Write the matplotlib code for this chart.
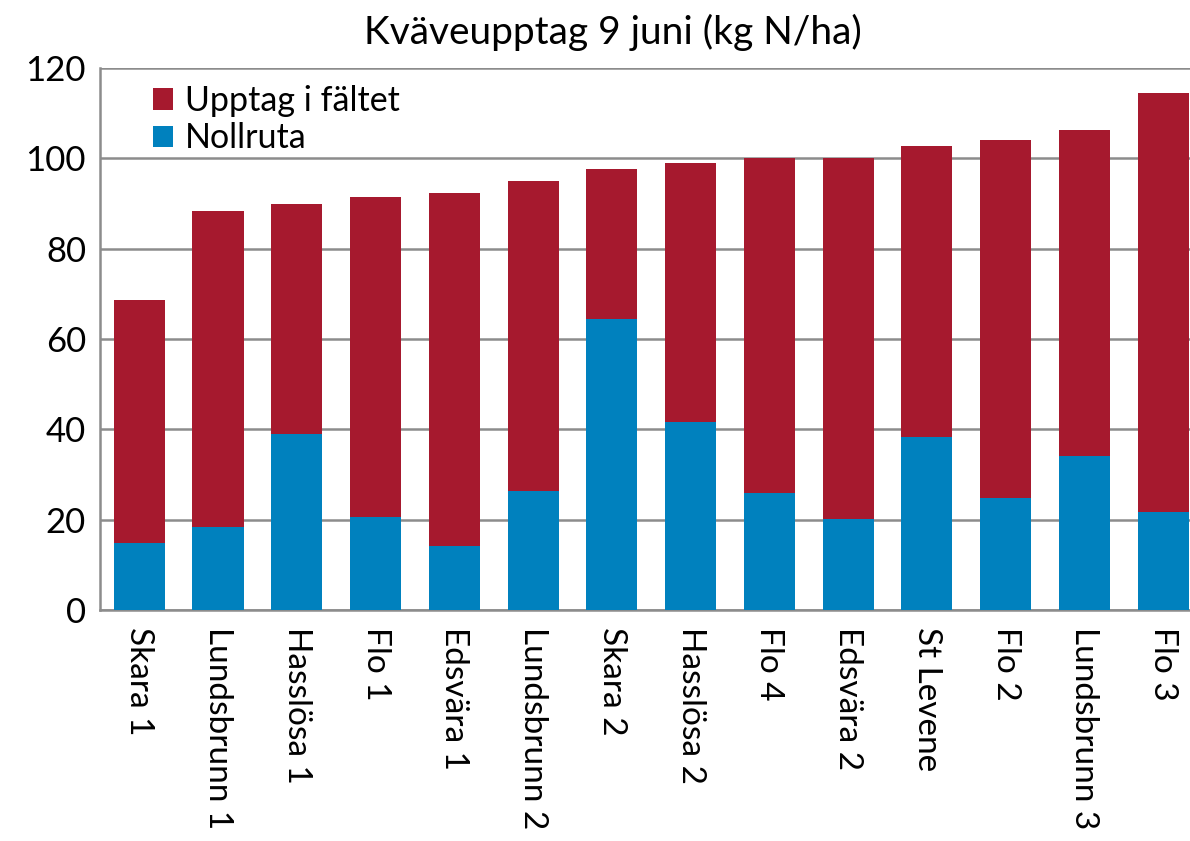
import matplotlib
matplotlib.use("Agg")
import matplotlib.pyplot as plt
import numpy as np

categories = ["Skara 1", "Lundsbrunn 1", "Hasslösa 1", "Flo 1", "Edsvära 1",
              "Lundsbrunn 2", "Skara 2", "Hasslösa 2", "Flo 4", "Edsvära 2",
              "St Levene", "Flo 2", "Lundsbrunn 3", "Flo 3"]
nollruta = [14.9, 18.4, 38.9, 20.7, 14.2, 26.4, 64.4, 41.6, 26.0, 20.2, 38.4, 24.9, 34.0, 21.6]
totals = [68.7, 88.3, 90.0, 91.5, 92.3, 95.1, 97.6, 99.0, 100.0, 100.0, 102.7, 104.1, 106.4, 114.4]
upptag = [t - n for t, n in zip(totals, nollruta)]
yticks = [0, 20, 40, 60, 80, 100, 120]

plt.rcParams['font.family'] = ['Lato', 'DejaVu Sans']

red = "#A6192E"
blue = "#0081BE"

fig = plt.figure(figsize=(11.9, 8.41), dpi=100)
ax = fig.add_axes([0.084, 0.2747, 1.0105 - 0.084, 0.919 - 0.2747])

x = np.arange(len(categories))
w = 0.65
ax.bar(x, nollruta, width=w, color=blue, label="Nollruta", zorder=3)
ax.bar(x, upptag, width=w, bottom=nollruta, color=red, label="Upptag i fältet", zorder=3)

ax.set_xlim(-0.5, len(categories) - 0.5)
ax.set_ylim(0, 120)
ax.set_yticks(yticks)
ax.yaxis.grid(True, color="#8c8c8c", linewidth=1.8, zorder=0)
ax.set_axisbelow(True)
for s in ["top", "right"]:
    ax.spines[s].set_visible(False)
for s in ["left", "bottom"]:
    ax.spines[s].set_color("#8c8c8c")
    ax.spines[s].set_linewidth(1.8)
ax.tick_params(axis="y", length=0, labelsize=25, pad=10)
ax.tick_params(axis="x", length=0, labelsize=24, pad=12)
ax.set_xticks(x)
ax.set_xticklabels(categories, rotation=-90, va="top", ha="center")

fig.text(0.515, 0.962, "Kväveupptag 9 juni (kg N/ha)", ha="center", va="center", fontsize=28)

handles, labels = ax.get_legend_handles_labels()
leg = ax.legend(handles[::-1], labels[::-1], loc="upper left", bbox_to_anchor=(0.02, 1.025),
                frameon=False, fontsize=24.5, handlelength=0.6, handleheight=0.6,
                handletextpad=0.35, labelspacing=0.15)
leg.set_zorder(5)

fig.savefig("out.png", dpi=100)
